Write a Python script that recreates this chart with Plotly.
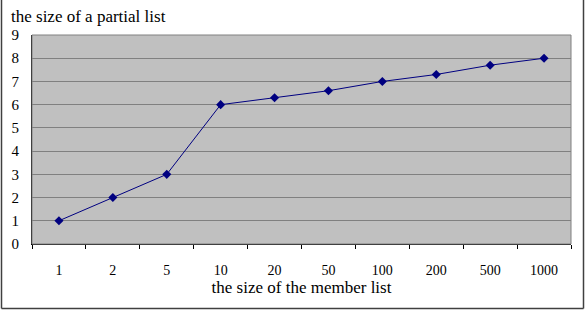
import plotly.graph_objects as go

categories = ["1", "2", "5", "10", "20", "50", "100", "200", "500", "1000"]
values = [1, 2, 3, 6, 6.3, 6.6, 7, 7.3, 7.7, 8]
y_ticks = [0, 1, 2, 3, 4, 5, 6, 7, 8, 9]

W, H = 586, 310
L, R, T, B = 32, 15, 35, 66
pw, ph = W - L - R, H - T - B

def px(x):
    return (x - L) / pw

def py(y):
    return (H - B - y) / ph

font_family = "Liberation Serif, Times New Roman, serif"

fig = go.Figure()
fig.add_trace(go.Scatter(
    x=categories, y=values, mode="lines+markers",
    line=dict(color="#000080", width=1),
    marker=dict(symbol="diamond", size=7, color="#000080"),
    showlegend=False,
))

fig.update_layout(
    width=W, height=H,
    margin=dict(l=L, r=R, t=T, b=B),
    paper_bgcolor="white",
    plot_bgcolor="#C0C0C0",
    font=dict(family=font_family, color="black"),
    xaxis=dict(
        type="category", tickson="boundaries", ticks="outside", ticklen=4,
        tickcolor="black", showline=True, linecolor="black", linewidth=1,
        showgrid=False, tickfont=dict(size=14), ticklabelstandoff=13,
        title=dict(text="the size of the member list", font=dict(size=17), standoff=3),
        range=[-0.5, 9.5],
    ),
    yaxis=dict(
        range=[0, 9], tickvals=y_ticks, showline=True, linecolor="black",
        linewidth=1, gridcolor="#808080", gridwidth=1, zeroline=False,
        ticks="", tickfont=dict(size=15), ticklabelstandoff=9,
    ),
    annotations=[dict(
        text="the size of a partial list", xref="paper", yref="paper",
        x=px(9), y=py(16), xanchor="left", yanchor="middle",
        showarrow=False, font=dict(size=17),
    )],
    shapes=[
        dict(type="rect", xref="paper", yref="paper", x0=0, x1=1, y0=0, y1=1,
             line=dict(color="#808080", width=1)),
        dict(type="line", xref="paper", yref="paper", x0=px(1.5), x1=px(1.5),
             y0=py(-5), y1=py(308.5), line=dict(color="#404040", width=1.5)),
        dict(type="line", xref="paper", yref="paper", x0=px(583.5), x1=px(583.5),
             y0=py(-5), y1=py(308.5), line=dict(color="#404040", width=1.5)),
        dict(type="line", xref="paper", yref="paper", x0=px(1.5), x1=px(583.5),
             y0=py(308.5), y1=py(308.5), line=dict(color="#404040", width=1.5)),
    ],
)

fig.write_html("out.html")
